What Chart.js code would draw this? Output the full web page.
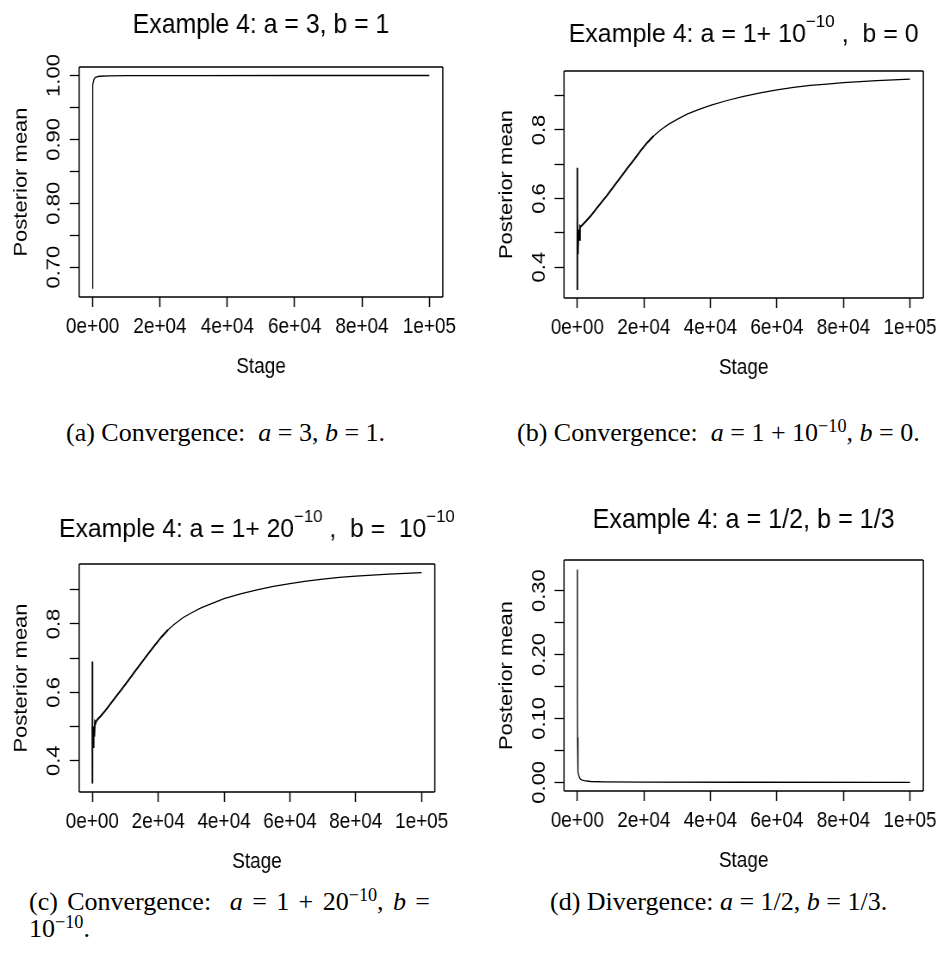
<!DOCTYPE html>
<html>
<head>
<meta charset="utf-8">
<script src="https://cdn.jsdelivr.net/npm/chart.js@4.4.1/dist/chart.umd.min.js"></script>
<style>
  body { margin: 0; background: #fff; width: 943px; height: 972px; position: relative; overflow: hidden; }
  .panel { position: absolute; transform-origin: 0 0; }
  .cap { position: absolute; font-family: "Liberation Serif", "Times New Roman", serif; font-size: 26px;
         line-height: 28px; color: #000; white-space: nowrap; }
  .cap sup { font-size: 0.7em; vertical-align: 0.5em; line-height: 0; }
</style>
</head>
<body>
<div class="panel" id="pa"><canvas id="ca"></canvas></div>
<div class="panel" id="pb"><canvas id="cb"></canvas></div>
<div class="panel" id="pc"><canvas id="cc"></canvas></div>
<div class="panel" id="pd"><canvas id="cd"></canvas></div>

<div class="cap" style="left:66px;top:419px">(a) Convergence:&nbsp; <i>a</i> = 3, <i>b</i> = 1.</div>
<div class="cap" style="left:517px;top:419px">(b) Convergence:&nbsp; <i>a</i> = 1 + 10<sup>−10</sup>, <i>b</i> = 0.</div>
<div class="cap" style="left:29px;top:888px;width:401px;white-space:normal;text-align:justify;text-align-last:justify">(c) Convergence:&nbsp; <i>a</i> = 1 + 20<sup>−10</sup>, <i>b</i> =</div>
<div class="cap" style="left:29px;top:915px">10<sup>−10</sup>.</div>
<div class="cap" style="left:550px;top:888px">(d) Divergence: <i>a</i> = 1/2, <i>b</i> = 1/3.</div>

<script>
// ---- data ----
const xTicks = [0, 20000, 40000, 60000, 80000, 100000];
const xTickLabels = ['0e+00', '2e+04', '4e+04', '6e+04', '8e+04', '1e+05'];

// (a) a = 3, b = 1
const stageA = [1, 2, 5, 10, 20, 50, 100, 200, 400, 700, 1000, 2000, 5000, 10000, 30000, 60000, 100000];
const meanA  = [0.6667, 0.80, 0.90, 0.94, 0.962, 0.978, 0.985, 0.990, 0.994, 0.9965, 0.9975, 0.9988,
                0.9995, 0.9997, 0.9999, 1.0, 1.0];
const yTicksA  = [0.70, 0.75, 0.80, 0.85, 0.90, 0.95, 1.00];
const yLabelsA = ['0.70', '', '0.80', '', '0.90', '', '1.00'];

// (b) a = 1 + 10^-10, b = 0
const stageB = [1, 2, 3, 5, 10, 30, 80, 150, 250, 400, 600, 800, 1000, 1500, 2500, 4000, 5500, 7000,
                9000, 11000, 13000, 15000, 17000, 19000, 21000, 23000, 25000, 27500, 30000, 33000, 36000,
                40000, 45000, 50000, 55000, 60000, 65000, 70000, 75000, 80000, 85000, 90000, 95000, 100000];
const meanB  = [0.50, 0.333, 0.69, 0.60, 0.45, 0.55, 0.44, 0.50, 0.45, 0.51, 0.48, 0.52, 0.518, 0.523,
                0.533, 0.549, 0.568, 0.586, 0.61, 0.636, 0.662, 0.688, 0.713, 0.739, 0.763, 0.783, 0.80,
                0.817, 0.831, 0.846, 0.858, 0.872, 0.886, 0.898, 0.908, 0.917, 0.924, 0.93, 0.934, 0.938,
                0.941, 0.944, 0.946, 0.948];
const yTicksB  = [0.4, 0.5, 0.6, 0.7, 0.8, 0.9];
const yLabelsB = ['0.4', '', '0.6', '', '0.8', ''];

// (c) a = 1 + 20^-10, b = 10^-10
const stageC = [1, 2, 3, 5, 10, 30, 80, 150, 250, 400, 600, 800, 1000, 1500, 2500, 4000, 5500, 7000,
                9000, 11000, 13000, 15000, 17000, 19000, 21000, 23000, 25000, 27500, 30000, 33000, 36000,
                40000, 45000, 50000, 55000, 60000, 65000, 70000, 75000, 80000, 85000, 90000, 95000, 100000];
const meanC  = [0.50, 0.333, 0.69, 0.58, 0.47, 0.56, 0.42, 0.49, 0.44, 0.50, 0.47, 0.515, 0.512, 0.52,
                0.53, 0.547, 0.566, 0.585, 0.61, 0.636, 0.662, 0.688, 0.713, 0.738, 0.762, 0.783, 0.80,
                0.818, 0.832, 0.847, 0.859, 0.874, 0.888, 0.90, 0.91, 0.918, 0.925, 0.931, 0.936, 0.94,
                0.943, 0.946, 0.948, 0.95];
const yTicksC  = [0.4, 0.5, 0.6, 0.7, 0.8, 0.9];
const yLabelsC = ['0.4', '', '0.6', '', '0.8', ''];

// (d) a = 1/2, b = 1/3
const stageD = [1, 10, 30, 60, 100, 200, 300, 500, 800, 1200, 2000, 4000, 8000, 20000, 50000, 100000];
const meanD  = [0.3333, 0.20, 0.12, 0.07, 0.045, 0.025, 0.016, 0.010, 0.006, 0.004, 0.0025, 0.0013,
                0.0007, 0.0003, 0.0001, 0.00005];
const yTicksD  = [0.00, 0.05, 0.10, 0.15, 0.20, 0.25, 0.30];
const yLabelsD = ['0.00', '', '0.10', '', '0.20', '', '0.30'];

// ---- drawing ----
const K = 0.86;              // the R device is squeezed horizontally in the page
const FONT = '"Liberation Sans", Arial, Helvetica, sans-serif';
const FS = 22;

const rTitle = {
  id: 'rtitle',
  afterDraw(chart, args, o) {
    const { ctx, chartArea } = chart;
    const cx = (chartArea.left + chartArea.right) / 2;
    const fontFor = sup => `${sup ? o.supFs : o.fs}px ${FONT}`;
    ctx.save();
    ctx.fillStyle = '#000';
    ctx.textBaseline = 'alphabetic';
    let total = 0;
    const widths = o.segs.map(([t, sup]) => {
      ctx.font = fontFor(sup);
      const w = ctx.measureText(t).width;
      total += w;
      return w;
    });
    ctx.translate(cx, o.base);
    ctx.scale(o.width / total, 1);
    let xx = -total / 2;
    o.segs.forEach(([t, sup], i) => {
      ctx.font = fontFor(sup);
      ctx.fillText(t, xx, sup ? -o.rise : 0);
      xx += widths[i];
    });
    ctx.restore();
  }
};

const rFrame = {
  id: 'rframe',
  afterDraw(chart, args, o) {
    const { ctx, chartArea: a, scales: { y } } = chart;
    ctx.save();
    ctx.strokeStyle = '#000';
    ctx.lineWidth = 1.3;
    ctx.beginPath();
    ctx.moveTo(a.left, a.top); ctx.lineTo(a.right, a.top);
    ctx.moveTo(a.left, a.bottom); ctx.lineTo(a.right, a.bottom);
    ctx.stroke();
    ctx.lineWidth = 1.3 / K;
    ctx.beginPath();
    ctx.moveTo(a.left, a.top); ctx.lineTo(a.left, a.bottom);
    ctx.moveTo(a.right, a.top); ctx.lineTo(a.right, a.bottom);
    ctx.stroke();
    // y tick labels, parallel to the axis like R's default
    ctx.fillStyle = '#000';
    ctx.font = `${FS}px ${FONT}`;
    ctx.textAlign = 'center';
    ctx.textBaseline = 'middle';
    y.ticks.forEach((t, i) => {
      const lab = o.labels[i];
      if (!lab) return;
      ctx.save();
      ctx.translate(o.labelX, y.getPixelForValue(t.value));
      ctx.rotate(-Math.PI / 2);
      ctx.fillText(lab, 0, 0);
      ctx.restore();
    });
    ctx.restore();
  }
};

function panel(p) {
  const wrap = document.getElementById(p.wrap);
  const W = p.w / K, H = p.h;
  Object.assign(wrap.style, {
    left: p.x + 'px', top: p.y + 'px', width: W + 'px', height: H + 'px',
    transform: `scaleX(${K})`
  });
  const bl = (p.box[0] - p.x) / K, br = (p.box[1] - p.x) / K;
  const bt = p.box[2] - p.y, bb = p.box[3] - p.y;
  const lh = FS * 1.2;
  const yTitleX = (p.box[0] - 57.5 - p.x) / K;
  const xTitleY = p.box[3] + 69.5 - p.y;

  new Chart(document.getElementById(p.canvas), {
    type: 'line',
    data: {
      datasets: [{
        data: p.stages.map((s, i) => ({ x: s, y: p.means[i] })),
        borderColor: '#000',
        borderWidth: p.lw,
        segment: p.thick ? { borderWidth: c => (c.p0.parsed.x < 22000 ? 1.9 : 1.25) } : undefined,
        pointRadius: 0,
        tension: 0,
        fill: false
      }]
    },
    options: {
      responsive: true,
      maintainAspectRatio: false,
      animation: false,
      events: [],
      layout: { padding: { left: 0, top: bt, right: W - br, bottom: 0 } },
      plugins: {
        legend: { display: false },
        tooltip: { enabled: false },
        rtitle: { segs: p.title, fs: p.titleFs, supFs: p.supFs || 17, rise: p.rise || 15,
                  width: p.titleW / K, base: p.titleBase - p.y },
        rframe: { labels: p.yLabels, labelX: (p.box[0] - 24.5 - p.x) / K }
      },
      scales: {
        x: {
          type: 'linear',
          min: -4000, max: 104000,
          bounds: 'data',
          afterBuildTicks: s => { s.ticks = xTicks.map(v => ({ value: v })); },
          afterFit: s => { s.height = H - bb; },
          border: { display: false },
          grid: { display: true, drawOnChartArea: false, drawTicks: true, tickLength: 10,
                  color: '#000', tickWidth: 1.3 / K },
          ticks: { autoSkip: false, maxRotation: 0, padding: 30 - 10 - lh / 2, color: '#000',
                   font: { family: FONT, size: FS }, callback: (v, i) => xTickLabels[i] },
          title: { display: true, text: 'Stage', color: '#000', font: { family: FONT, size: FS },
                   padding: { top: 0, bottom: H - xTitleY - lh / 2 } }
        },
        y: {
          type: 'linear',
          min: p.yMin, max: p.yMax,
          bounds: 'data',
          afterBuildTicks: s => { s.ticks = p.yTicks.map(v => ({ value: v })); },
          afterFit: s => { s.width = bl; },
          border: { display: false },
          grid: { display: true, drawOnChartArea: false, drawTicks: true, tickLength: 11,
                  color: '#000', tickWidth: 1.3 },
          ticks: { display: false, autoSkip: false },
          title: { display: true, text: 'Posterior mean', color: '#000', font: { family: FONT, size: FS },
                   padding: { top: yTitleX - lh / 2, bottom: 0 } }
        }
      }
    },
    plugins: [rTitle, rFrame]
  });
}

panel({ wrap: 'pa', canvas: 'ca', x: 0, y: 0, w: 470, h: 390, box: [79, 442, 67, 297],
        yMin: 0.6533, yMax: 1.0133, stages: stageA, means: meanA, yTicks: yTicksA, yLabels: yLabelsA,
        title: [['Example 4: a = 3, b = 1', false]], titleFs: 28, titleW: 256, titleBase: 33.3, lw: 1.3 });

panel({ wrap: 'pb', canvas: 'cb', x: 470, y: 0, w: 473, h: 390, box: [564, 927, 71, 298],
        yMin: 0.310, yMax: 0.972, stages: stageB, means: meanB, yTicks: yTicksB, yLabels: yLabelsB,
        title: [['Example 4: a = 1+ 10', false], ['\u221210', true], [' ,  b = 0', false]],
        titleFs: 25, titleW: 350, titleBase: 41.7, lw: 1.4, thick: true });

panel({ wrap: 'pc', canvas: 'cc', x: 0, y: 480, w: 470, h: 400, box: [79, 434, 564, 792],
        yMin: 0.3085, yMax: 0.9754, stages: stageC, means: meanC, yTicks: yTicksC, yLabels: yLabelsC,
        title: [['Example 4: a = 1+ 20', false], ['\u221210', true], [' ,  b =  10', false], ['\u221210', true]],
        titleFs: 25, titleW: 395, titleBase: 536.7, lw: 1.4, thick: true });

panel({ wrap: 'pd', canvas: 'cd', x: 470, y: 480, w: 473, h: 400, box: [564, 927, 560, 791],
        yMin: -0.0136, yMax: 0.348, stages: stageD, means: meanD, yTicks: yTicksD, yLabels: yLabelsD,
        title: [['Example 4: a = 1/2, b = 1/3', false]], titleFs: 28, titleW: 302, titleBase: 528.3, lw: 1.3 });
</script>
</body>
</html>
